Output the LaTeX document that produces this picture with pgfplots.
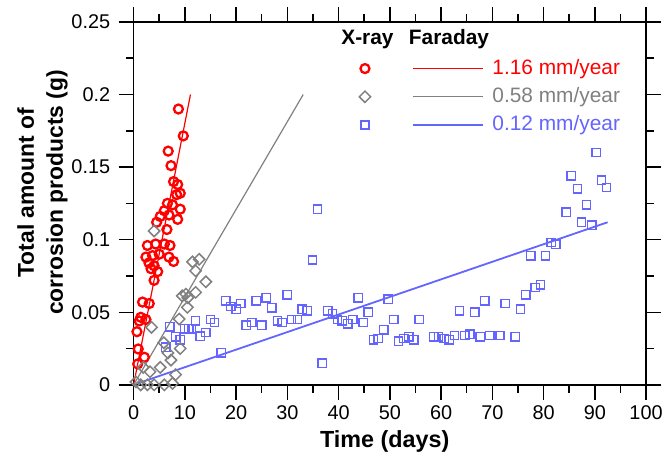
\documentclass[border=0pt]{standalone}
\usepackage{pgfplots}
\pgfplotsset{compat=1.18}
\usepackage{fontspec}
\setmainfont{Liberation Sans}
\definecolor{myblue}{RGB}{100,100,255}
\definecolor{mygray}{RGB}{128,128,128}

\pgfplotstableread{
x y
8.75 0.190
9.7 0.1715
6.75 0.161
7.3 0.151
7.8 0.140
8.6 0.138
9.1 0.132
8.4 0.131
6.6 0.125
7.6 0.124
9.1 0.121
8.6 0.114
6.0 0.120
5.2 0.116
6.9 0.117
6.5 0.107
4.5 0.112
2.7 0.096
4.3 0.097
6.0 0.097
7.1 0.096
2.4 0.088
3.7 0.089
5.0 0.090
6.9 0.088
7.8 0.085
3.0 0.084
4.0 0.082
3.4 0.080
4.7 0.078
4.0 0.072
1.75 0.057
3.05 0.056
1.4 0.0465
2.4 0.045
1.1 0.044
0.65 0.0366
0.9 0.0247
2.1 0.019
0.8 0.0144
}\redtab

\pgfplotstableread{
x y
4.0 0.106
11.5 0.0847
12.8 0.0865
12.1 0.0785
14.1 0.071
9.5 0.0613
10.2 0.0625
10.6 0.060
12.1 0.0637
10.5 0.0534
8.9 0.0453
3.5 0.0396
5.9 0.029
9.1 0.025
6.7 0.022
7.3 0.017
5.2 0.012
1.9 0.012
3.2 0.009
8.2 0.007
0.45 0.002
1.4 0.0
2.7 0.0
4.0 0.0
6.0 0.0
7.6 0.001
}\graytab

\pgfplotstableread{
x y
6.3 0.026
7.1 0.040
8.2 0.033
9.1 0.031
10.0 0.0385
10.8 0.0385
11.3 0.0385
12.1 0.044
13.0 0.0334
14.1 0.036
15.0 0.045
15.8 0.043
17.1 0.022
18.0 0.058
19.0 0.054
20.0 0.052
20.9 0.056
22.0 0.041
23.1 0.043
23.9 0.058
25.0 0.041
25.9 0.060
27.0 0.053
28.1 0.044
29.0 0.043
30.0 0.062
30.8 0.045
32.0 0.045
32.9 0.052
33.9 0.051
34.9 0.086
35.9 0.121
36.8 0.015
37.9 0.051
38.8 0.049
39.8 0.045
40.7 0.044
41.8 0.042
42.8 0.045
43.8 0.060
44.8 0.043
45.8 0.050
46.8 0.031
47.7 0.032
48.8 0.038
49.7 0.059
50.8 0.045
51.7 0.030
52.7 0.032
53.7 0.033
54.7 0.031
55.7 0.045
58.6 0.033
59.5 0.033
60.6 0.032
61.6 0.031
62.6 0.034
63.6 0.051
64.6 0.034
65.6 0.035
66.6 0.050
67.6 0.033
68.5 0.058
69.5 0.034
71.5 0.034
72.5 0.056
74.5 0.033
75.5 0.052
76.5 0.062
77.5 0.089
78.4 0.067
79.4 0.069
80.4 0.089
81.5 0.098
82.4 0.097
84.4 0.119
85.4 0.144
86.6 0.135
87.4 0.112
88.4 0.124
89.4 0.110
90.3 0.160
91.3 0.141
92.3 0.136
}\bluetab

\begin{document}
\begin{tikzpicture}
\begin{axis}[
  scale only axis, width=514bp, height=364bp,
  xmin=0, xmax=100, ymin=0, ymax=0.25,
  xtick={0,10,...,100}, minor x tick num=1,
  ytick={0,0.05,0.1,0.15,0.2,0.25},
  yticklabels={0,0.05,0.1,0.15,0.2,0.25},
  minor y tick num=1,
  tick align=outside,
  major tick length=15bp, minor tick length=8bp,
  axis line style={line width=1.5bp},
  every tick/.style={black, line width=1.5bp},
  /pgf/number format/assume math mode=true,
  tick label style={font=\fontsize{20}{24}\selectfont},
  yticklabel style={xshift=-5bp},
  xticklabel style={yshift=-2bp},
  clip=false,
  xlabel={Time (days)},
  xlabel style={font=\fontsize{23.5}{28}\selectfont\bfseries, at={(axis description cs:0.49,0)}, anchor=base, yshift=-63bp, inner sep=0pt},
  ylabel={Total amount of\\corrosion products (g)},
  ylabel style={font=\fontsize{23}{29}\selectfont\bfseries, align=center, at={(axis description cs:-0.1284,0.53)}, anchor=south, inner sep=0pt},
  legend style={at={(axis cs:44.05,0.2244)}, anchor=north west, draw=none, fill=none,
    inner sep=0pt, outer sep=0pt, font=\fontsize{21}{25}\selectfont,
    nodes={inner sep=0pt, text height=15bp, text depth=4bp},
    row sep=9.3bp, /tikz/every odd column/.style={column sep=9bp}},
  legend cell align=left,
]
\addlegendimage{legend image code/.code={
  \draw[red, line width=1.2bp] (48bp,0pt) -- (118bp,0pt);
  \draw[red, line width=2.3bp] plot[mark=o, mark size=4.5bp] coordinates {(0bp,0bp)};
}}
\addlegendimage{legend image code/.code={
  \draw[mygray, line width=1.2bp] (48bp,0pt) -- (118bp,0pt);
  \draw[mygray, line width=1.5bp] plot[mark=square, mark size=4bp, mark options={rotate=45}] coordinates {(0bp,0bp)};
}}
\addlegendimage{legend image code/.code={
  \draw[myblue, line width=1.8bp] (48bp,0pt) -- (118bp,0pt);
  \draw[myblue, line width=1.3bp] plot[mark=square, mark size=4bp] coordinates {(0bp,0bp)};
}}
\legend{\textcolor{red}{1.16 mm/year},\textcolor{mygray}{0.58 mm/year},\textcolor{myblue}{0.12 mm/year}}

\addplot[only marks, mark=o, mark size=4.5bp, red, line width=2.3bp] table {\redtab};
\addplot[only marks, mark=square, mark size=4.2bp, myblue, line width=1.4bp] table {\bluetab};
\addplot[only marks, mark=square, mark size=4bp, mark options={rotate=45}, mygray, line width=1.5bp] table {\graytab};
\addplot[red, line width=1.2bp] coordinates {(0,0) (11.1,0.2)};
\addplot[mygray, line width=1.2bp] coordinates {(0,0) (33.1,0.2)};
\addplot[myblue, line width=1.8bp] coordinates {(0.8,0.001) (92.5,0.112)};

\node[anchor=base west, font=\fontsize{21}{25}\selectfont\bfseries, inner sep=0pt] at (axis cs:40.5,0.2342) {X-ray};
\node[anchor=base west, font=\fontsize{21}{25}\selectfont\bfseries, inner sep=0pt] at (axis cs:53.7,0.2342) {Faraday};
\end{axis}
\pgfresetboundingbox
\path ([shift={(-134bp,-75bp)}]current axis.south west) rectangle ([shift={(531bp,386bp)}]current axis.south west);
\end{tikzpicture}
\end{document}
